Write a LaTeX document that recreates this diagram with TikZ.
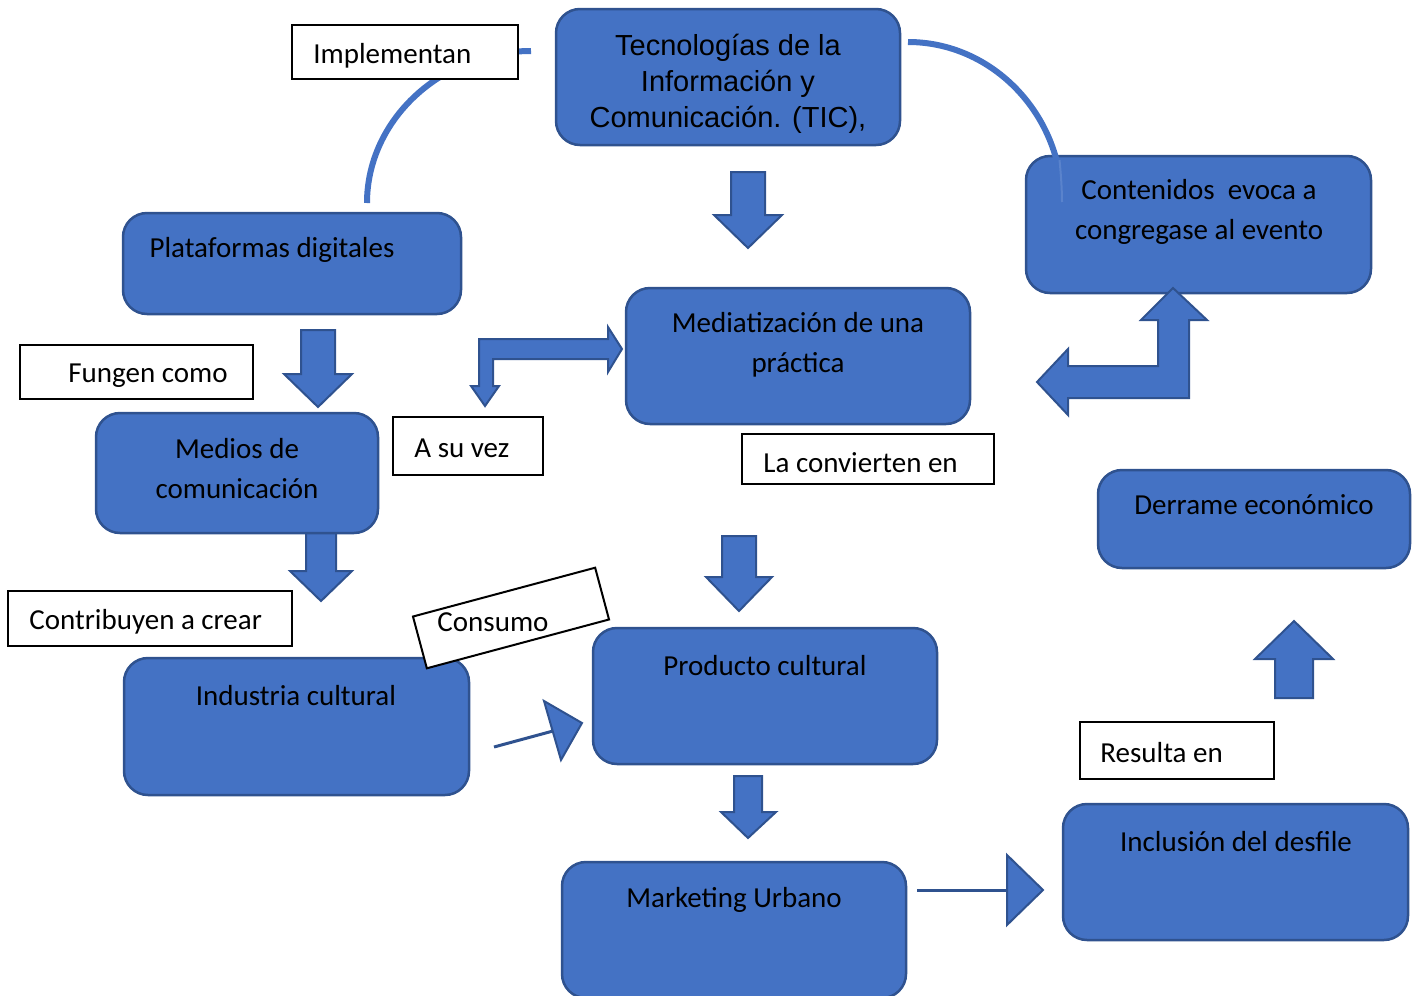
\documentclass[tikz,border=0pt]{standalone}
\usepackage{fontspec}
\setmainfont{Carlito}
\newfontfamily\arialf{Liberation Sans}
\usetikzlibrary{fit}
\definecolor{blu}{HTML}{4472C4}
\definecolor{bdr}{HTML}{2F528F}
\definecolor{blulight}{HTML}{5A83CC}
\tikzset{
  bluebox/.style={draw=bdr, fill=blu, line width=1.25pt, rounded corners=12pt, inner sep=0pt},
  lbl/.style={draw=black, fill=white, line width=1pt, inner sep=0pt},
  txt/.style={text=black, align=center, inner sep=0pt, yshift=-1pt, font=\fontsize{14.5pt}{20pt}\selectfont},
  blockarrow/.style={draw=bdr, fill=blu, line width=1pt, line join=miter},
  curveline/.style={draw=blu, line width=3pt},
  thinline/.style={draw=bdr, line width=1.5pt},
}
\begin{document}
\begin{tikzpicture}[x=0.5pt,y=-0.5pt]
\useasboundingbox (0,0) rectangle (1414,996);

% curve behind Implementan
\coordinate (c1s) at (531,51);
\coordinate (c1e) at (367,203);
\draw[curveline] (c1s) .. controls (441,51) and (367,120) .. (c1e);

% boxes
\node[bluebox, fit={(556,9) (900,145)}] (tic) {};
\node[txt, yshift=-1.5pt, font=\arialf\fontsize{14.5pt}{18pt}\selectfont] (tict) at (728,79) {Tecnologías de la\\Información y\\Comunicación. (TIC),};
\node[lbl, fit={(292,25) (518,79)}] (impl) {};
\node[txt, anchor=west] (implt) at (313,54) {Implementan};

\node[bluebox, fit={(1026,156) (1371,293)}] (cont) {};
\node[txt] (contt) at (1199,210) {Contenidos\ \ evoca a\\congregase al evento};
\coordinate (c2s) at (908,42);
\coordinate (c2m) at (1055,156);
\coordinate (c2e) at (1062,202);
\draw[curveline] (c2s) .. controls (993,42) and (1062,115) .. (c2e);
\draw[draw=blulight, line width=1pt] (1059.5,160) .. controls (1061,175) and (1062,190) .. (1062,202);

\node[bluebox, fit={(123,213) (461,314)}] (plat) {};
\node[txt] (platt) at (272,248) {Plataformas digitales};

\node[bluebox, fit={(626,288) (970,424)}] (medi) {};
\node[txt] (medit) at (798,343) {Mediatización de una\\práctica};

\node[lbl, fit={(20,345) (253,399)}] (fung) {};
\node[txt, anchor=west] (fungt) at (68,374) {Fungen como};

% arrows
\draw[blockarrow] (731,172) -- (765,172) -- (765,215) -- (782,215) -- (748,248) -- (714,215) -- (731,215) -- cycle;
\draw[blockarrow] (301,330) -- (335,330) -- (335,374) -- (352,374) -- (318,407) -- (284,374) -- (301,374) -- cycle;
\draw[blockarrow] (306,531) -- (336,531) -- (336,571) -- (352,571) -- (321,601) -- (290,571) -- (306,571) -- cycle;
\draw[blockarrow] (722,536) -- (756,536) -- (756,577) -- (772,577) -- (739,611) -- (706,577) -- (722,577) -- cycle;
\draw[blockarrow] (734,776) -- (762,776) -- (762,812) -- (776,812) -- (748,838) -- (721,812) -- (734,812) -- cycle;
\draw[blockarrow] (1275,698) -- (1275,659) -- (1255,659) -- (1294,621) -- (1333,659) -- (1313,659) -- (1313,698) -- cycle;
% bent arrow to Mediatizacion
\draw[blockarrow] (622,349) -- (608,327) -- (608,339) -- (479,339) -- (479,386) -- (471,386) -- (485,406) -- (499,386) -- (493,386) -- (493,359) -- (608,359) -- (608,372) -- cycle;
% bent arrow to Contenidos
\draw[blockarrow] (1037,382) -- (1068,349) -- (1068,366) -- (1158,366) -- (1158,320) -- (1141,320) -- (1173,288) -- (1207,320) -- (1189,320) -- (1189,398) -- (1068,398) -- (1068,415) -- cycle;

\node[bluebox, fit={(96,413) (378,533)}] (mcom) {};
\node[txt] (mcomt) at (237,467) {Medios de\\comunicación};

\node[lbl, fit={(393,417) (543,475)}] (asu) {};
\node[txt, anchor=west] (asut) at (414,446) {A su vez};

\node[lbl, fit={(742,434) (994,484)}] (conv) {};
\node[txt, anchor=west] (convt) at (763,461) {La convierten en};

\node[bluebox, fit={(1098,470) (1410,568)}] (derr) {};
\node[txt] (derrt) at (1254,503) {Derrame económico};

\node[lbl, fit={(8,591) (292,646)}] (contr) {};
\node[txt, anchor=west] (contrt) at (29,620) {Contribuyen a crear};

\node[bluebox, fit={(124,658) (469,795)}] (ind) {};
\node[txt] (indt) at (296,694) {Industria cultural};

\node[lbl, minimum width=94.3pt, minimum height=26.8pt, rotate=15] (cons) at (511,618) {};
\node[txt] (const) at (493,620) {Consumo};

\node[bluebox, fit={(593,628) (937,764)}] (prod) {};
\node[txt] (prodt) at (765,664) {Producto cultural};

% thin arrow industria -> producto
\coordinate (t1s) at (494,747);
\coordinate (t1e) at (553,731);
\draw[thinline] (t1s) -- (t1e);
\draw[blockarrow] (544,701) -- (582,723) -- (561,760) -- cycle;

\node[lbl, fit={(1080,722) (1274,779)}] (res) {};
\node[txt, anchor=west] (rest) at (1100,751) {Resulta en};

\node[bluebox, fit={(1063,804) (1408,940)}] (incl) {};
\node[txt] (inclt) at (1236,840) {Inclusión del desfile};

\node[bluebox, fit={(562,862) (906,998)}] (mark) {};
\node[txt] (markt) at (734,898) {Marketing Urbano};

% thin arrow marketing -> inclusion
\coordinate (t2s) at (917,890);
\coordinate (t2e) at (1008,890);
\draw[thinline] (t2s) -- (t2e);
\draw[blockarrow] (1007,855) -- (1043,890) -- (1007,925) -- cycle;
\end{tikzpicture}
\end{document}
